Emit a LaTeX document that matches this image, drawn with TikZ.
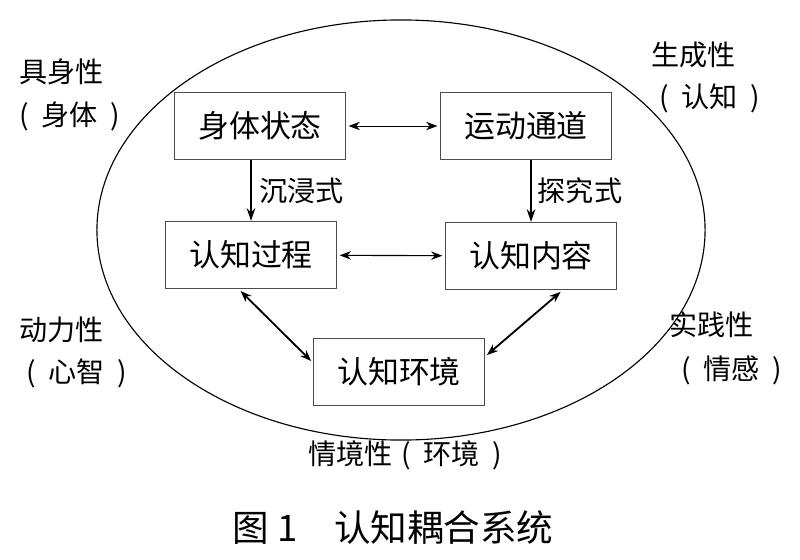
\documentclass[tikz,border=0pt]{standalone}
\usepackage{fontspec}
\setmainfont{Noto Sans CJK SC}
\usetikzlibrary{arrows.meta}
\newcommand{\paren}[1]{(\hspace{0.45em}#1\hspace{0.45em})}

\begin{document}
\begin{tikzpicture}[x=0.025cm,y=-0.025cm]

\tikzset{box/.style = {draw=black!70, line width=0.6pt, minimum width=4.27cm, minimum height=1.68cm, font=\fontsize{22}{26}\selectfont}}
\tikzset{lbl/.style = {font=\fontsize{20}{24}\selectfont, inner sep=1pt}}
\tikzset{edge/.style = {<->, > = {Stealth[length=8pt,width=6pt]}, shorten <=2pt, shorten >=2pt}}
\tikzset{flow/.style = {->, > = {Stealth[length=9pt,width=6pt]}, line width=1.7pt}}
\useasboundingbox (0,0) rectangle (800,559);
%outline
\draw[line width=0.8pt] (401,230) ellipse [x radius=7.6cm, y radius=5.25cm];
%boxes
\node[box] (st) at (260,126) {身体状态};
\node[box] (yd) at (526,126) {运动通道};
\node[box] (gc) at (251,255) {认知过程};
\node[box] (nr) at (531,256) {认知内容};
\node[box] (hj) at (399,372) {认知环境};
%outer labels
\node[lbl, anchor=west] (js) at (18,72) {具身性};
\node[lbl, anchor=west] (jsb) at (18,116) {\paren{身体}};
\node[lbl, anchor=west] (sc) at (650,55) {生成性};
\node[lbl, anchor=west] (scb) at (658,98) {\paren{认知}};
\node[lbl, anchor=west] (dl) at (18,330) {动力性};
\node[lbl, anchor=west] (dlb) at (25,373) {\paren{心智}};
\node[lbl, anchor=west] (sj) at (668,325) {实践性};
\node[lbl, anchor=west] (sjb) at (680,370) {\paren{情感}};
\node[lbl] (qj) at (405,455) {情境性\hspace{0.3em}\paren{环境}};
\node[font=\fontsize{26}{30}\selectfont] (cap) at (393,528) {图 1\quad 认知耦合系统};
%edges
\draw[edge, line width=0.5pt] (st) -- (yd);
\draw[edge, line width=0.8pt] (gc) -- (nr);
\draw[flow] (st.south -| gc.north) -- (gc.north) node[midway, right, lbl, xshift=4pt] {沉浸式};
\draw[flow] (yd.south -| nr.north) -- (nr.north) node[midway, right, lbl, xshift=3pt] {探究式};
\draw[edge, line width=1.3pt] (gc.250) -- (hj.174);
\draw[edge, line width=1.3pt] (nr.-47) -- (hj.10);

\end{tikzpicture}
\end{document}
